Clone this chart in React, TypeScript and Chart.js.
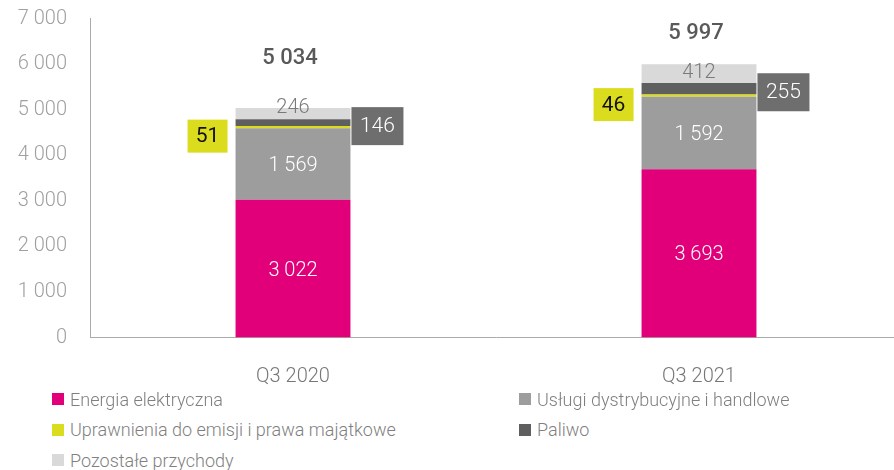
import React, { useEffect, useRef } from "react";
import { Chart, registerables } from "chart.js";

Chart.register(...registerables);

const categories = ["Q3 2020", "Q3 2021"];
const energia = [3022, 3693];
const uslugi = [1569, 1592];
const uprawnienia = [51, 46];
const paliwo = [146, 255];
const pozostale = [246, 412];
const totals = [5034, 5997];
const seriesNames = [
  "Energia elektryczna",
  "Usługi dystrybucyjne i handlowe",
  "Uprawnienia do emisji i prawa majątkowe",
  "Paliwo",
  "Pozostałe przychody",
];
const colors = ["#E2007A", "#9D9D9D", "#DCDC1E", "#5F5F5F", "#D9D9D9"];
const yMax = 7000;
const yStep = 1000;

// style-only offsets (pixels)
const totalOffsets = [50, 31];
const topLabelOffsets = [-6, -1];

const FONT = "Roboto";

const fmt = (n: number) =>
  String(n).replace(/\B(?=(\d{3})+(?!\d))/g, " ");

const labelPlugin = {
  id: "customLabels",
  afterDatasetsDraw(chart: any) {
    const ctx = chart.ctx;
    ctx.save();
    ctx.textAlign = "center";
    ctx.textBaseline = "middle";
    const metas = [0, 1, 2, 3, 4].map((i) => chart.getDatasetMeta(i));
    categories.forEach((_, j) => {
      [0, 1].forEach((i) => {
        const el = metas[i].data[j];
        const v = chart.data.datasets[i].data[j];
        ctx.font = `300 20px ${FONT}`;
        ctx.fillStyle = "#ffffff";
        ctx.fillText(fmt(v), el.x, (el.y + el.base) / 2 + 2);
      });
      {
        const el = metas[4].data[j];
        const v = chart.data.datasets[4].data[j];
        ctx.font = `300 20px ${FONT}`;
        ctx.fillStyle = "#7a7a7a";
        ctx.fillText(fmt(v), el.x, (el.y + el.base) / 2 + topLabelOffsets[j]);
      }
      {
        const el = metas[2].data[j];
        const v = chart.data.datasets[2].data[j];
        const cy = (el.y + el.base) / 2 + 9;
        const left = el.x - el.width / 2;
        const w = 40, h = 33;
        ctx.fillStyle = colors[2];
        ctx.fillRect(left - 8 - w, cy - h / 2, w, h);
        ctx.font = `400 21px ${FONT}`;
        ctx.fillStyle = "#111111";
        ctx.fillText(fmt(v), left - 8 - w / 2, cy + 1);
      }
      {
        const el = metas[3].data[j];
        const v = chart.data.datasets[3].data[j];
        const cy = (el.y + el.base) / 2 + 3.5;
        const right = el.x + el.width / 2;
        const w = 52, h = 38;
        ctx.fillStyle = "#6E6E6E";
        ctx.fillRect(right + 1, cy - h / 2, w, h);
        ctx.font = `300 21px ${FONT}`;
        ctx.fillStyle = "#ffffff";
        ctx.fillText(fmt(v), right + 1 + w / 2, cy + 1);
      }
      {
        const el = metas[4].data[j];
        ctx.font = `500 22px ${FONT}`;
        ctx.fillStyle = "#595959";
        ctx.fillText(fmt(totals[j]), el.x - 3, el.y - totalOffsets[j]);
      }
    });
    ctx.restore();
  },
};

export default function App() {
  const ref = useRef<HTMLCanvasElement | null>(null);
  useEffect(() => {
    if (!ref.current) return;
    const series = [energia, uslugi, uprawnienia, paliwo, pozostale];
    const chart = new Chart(ref.current, {
      type: "bar",
      data: {
        labels: categories,
        datasets: series.map((d, i) => ({
          label: seriesNames[i],
          data: d,
          backgroundColor: colors[i],
          borderWidth: 0,
          barPercentage: 0.283,
          categoryPercentage: 1,
        })),
      },
      options: {
        animation: false,
        responsive: false,
        maintainAspectRatio: false,
        layout: { padding: { top: 18.5, right: 8, left: 0, bottom: 0 } },
        plugins: {
          legend: { display: false },
          tooltip: { enabled: false },
        },
        scales: {
          x: {
            stacked: true,
            grid: { display: false },
            border: { display: true, color: "#ABABAB", width: 1 },
            ticks: {
              color: "#777777",
              font: { family: FONT, size: 20, weight: "300" as any },
              padding: 19,
            },
            afterFit: (s: any) => {
              s.height = 52.5;
            },
          },
          y: {
            stacked: true,
            min: 0,
            max: yMax,
            grid: { display: false, drawTicks: true, tickLength: 23 },
            border: { display: true, color: "#ABABAB", width: 1 },
            ticks: {
              stepSize: yStep,
              color: "#A0A0A0",
              font: { family: FONT, size: 20, weight: "300" as any },
              padding: 0,
              callback: (v: any) => fmt(Number(v)),
            },
            afterFit: (s: any) => {
              s.width = 90;
              s.paddingTop = 0;
              s.paddingBottom = 0;
            },
          },
        },
      },
      plugins: [labelPlugin],
    });
    return () => chart.destroy();
  }, []);

  const legendRows = [
    [0, 1],
    [2, 3],
    [4],
  ];
  const rowY = [399, 429.5, 460];
  const colX = [52, 519];

  return (
    <div
      style={{
        position: "fixed",
        left: 0,
        top: 0,
        width: 894,
        height: 470,
        overflow: "hidden",
        background: "#ffffff",
        fontFamily: FONT,
      }}
    >
      <canvas
        ref={ref}
        width={910}
        height={390}
        style={{ position: "absolute", left: 0, top: 0, width: 910, height: 390 }}
      />
      {legendRows.map((row, r) =>
        row.map((i, c) => (
          <div
            key={i}
            style={{
              position: "absolute",
              left: colX[c],
              top: rowY[r] - 12,
              height: 24,
              display: "flex",
              alignItems: "center",
              whiteSpace: "nowrap",
            }}
          >
            <span
              style={{
                display: "inline-block",
                width: 12,
                height: 12,
                background: colors[i],
                marginRight: 6,
              }}
            />
            <span style={{ fontSize: 18, fontWeight: 300, color: "#7F7F7F" }}>
              {seriesNames[i]}
            </span>
          </div>
        ))
      )}
    </div>
  );
}
